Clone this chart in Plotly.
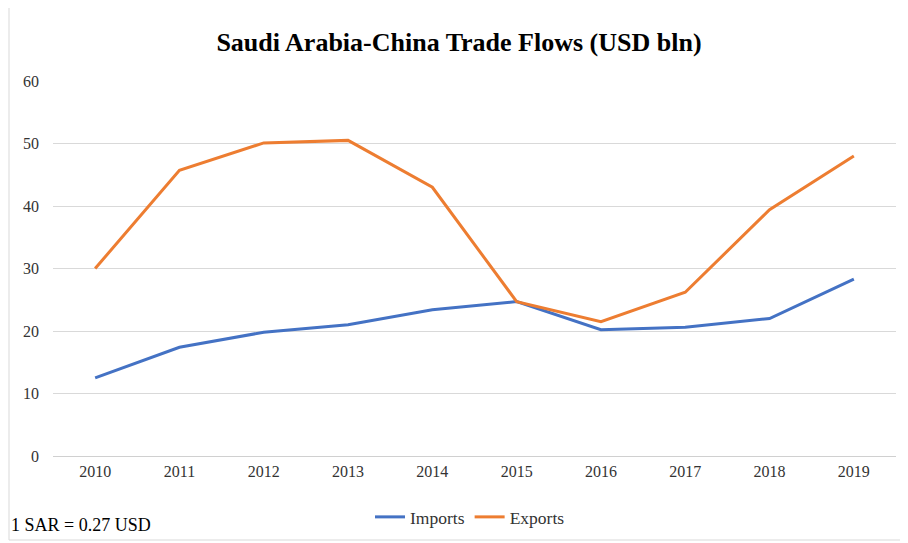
import plotly.graph_objects as go

years = ["2010", "2011", "2012", "2013", "2014", "2015", "2016", "2017", "2018", "2019"]
imports = [12.5, 17.4, 19.8, 21.0, 23.4, 24.7, 20.2, 20.6, 22.0, 28.3]
exports = [30.0, 45.7, 50.1, 50.5, 43.0, 24.7, 21.5, 26.2, 39.4, 48.0]
y_ticks = [0, 10, 20, 30, 40, 50, 60]

# the page body has an 8px margin, so the figure is drawn 8px smaller
OFF = 8
W, H = 908 - OFF, 543 - OFF
PLOT_L, PLOT_R, PLOT_T, PLOT_B = 53, 896, 81, 456  # reference pixel coords
ML = PLOT_L - OFF
MR = W - (PLOT_R - OFF)
MT = PLOT_T - OFF
MB = H - (PLOT_B - OFF)
PW = W - ML - MR
PH = H - MT - MB

def px_x(px):
    return (px - OFF - ML) / PW

def px_y(py):
    return (H - MB - (py - OFF)) / PH

font_family = "Liberation Serif, Times New Roman, serif"

fig = go.Figure()
fig.add_trace(go.Scatter(x=years, y=imports, name="Imports", mode="lines",
                         line=dict(color="#4472C4", width=3)))
fig.add_trace(go.Scatter(x=years, y=exports, name="Exports", mode="lines",
                         line=dict(color="#ED7D31", width=3)))

fig.update_layout(
    width=W, height=H,
    margin=dict(l=ML, r=MR, t=MT, b=MB, autoexpand=False),
    paper_bgcolor="white", plot_bgcolor="white",
    font=dict(family=font_family, color="#333333", size=16),
    title=dict(text="<b>Saudi Arabia-China Trade Flows (USD bln)</b>",
               x=px_x(459), xanchor="center", xref="paper",
               y=1 - (42 - OFF) / H, yanchor="middle",
               font=dict(family=font_family, size=26, color="#000000")),
    xaxis=dict(type="category", range=[-0.5, len(years) - 0.5], showgrid=False,
               showline=False, ticks="", automargin=False,
               tickfont=dict(size=16, color="#333333"), ticklabelstandoff=4),
    yaxis=dict(range=[0, 60], tickvals=y_ticks, showgrid=True, gridcolor="#d9d9d9",
               gridwidth=1, zeroline=True, zerolinecolor="#d0d0d0", zerolinewidth=1,
               showline=False, ticks="", automargin=False,
               tickfont=dict(size=16, color="#333333"), ticklabelstandoff=13),
    legend=dict(orientation="h", x=px_x(470), xanchor="center", y=px_y(517), yanchor="middle",
                font=dict(size=17.5, color="#333333"), itemwidth=30,
                bgcolor="rgba(0,0,0,0)"),
    showlegend=True,
)

fig.add_annotation(text="1 SAR = 0.27 USD", xref="paper", yref="paper",
                   x=px_x(9), y=px_y(525), xanchor="left", yanchor="middle",
                   showarrow=False, font=dict(family=font_family, size=18, color="#000000"))

fig.add_shape(type="rect", xref="paper", yref="paper",
              x0=px_x(9), x1=px_x(920), y0=px_y(540), y1=px_y(4),
              line=dict(color="#d9d9d9", width=1), fillcolor="rgba(0,0,0,0)", layer="below")

fig.write_html("out.html")
